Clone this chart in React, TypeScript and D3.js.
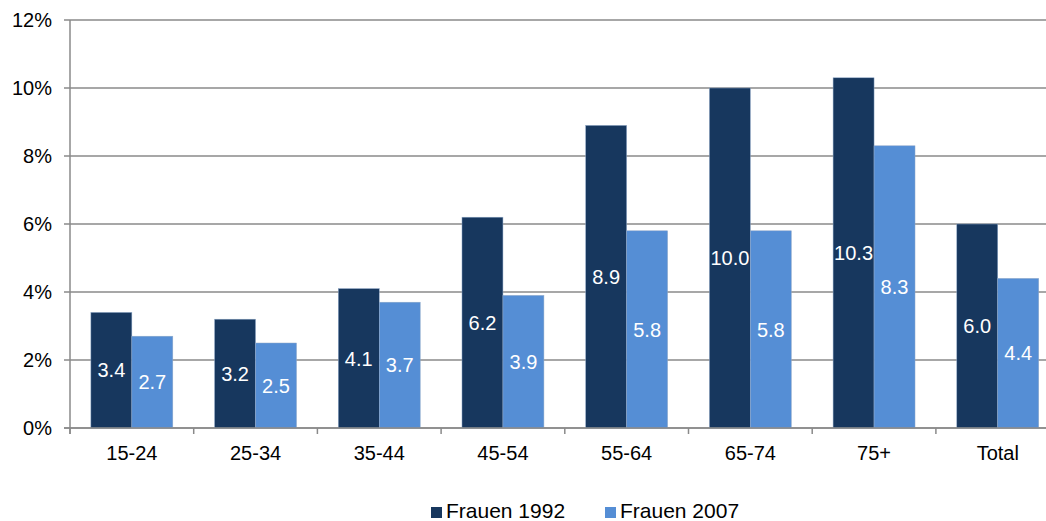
import React from 'react';
import * as d3 from 'd3';

const categories = ['15-24', '25-34', '35-44', '45-54', '55-64', '65-74', '75+', 'Total'];
const frauen1992 = [3.4, 3.2, 4.1, 6.2, 8.9, 10.0, 10.3, 6.0];
const frauen2007 = [2.7, 2.5, 3.7, 3.9, 5.8, 5.8, 8.3, 4.4];
const seriesNames = ['Frauen 1992', 'Frauen 2007'];
const seriesColors = ['#17375e', '#558ed5'];
const yTicks = [0, 2, 4, 6, 8, 10, 12];

const W = 1046;
const H = 521;
const margin = { left: 70, top: 20, bottom: 428 };
const plotRight = 70 + 8 * 123.7;
const font = '"Liberation Sans", Arial, sans-serif';

export default function App() {
  const x = d3.scaleBand<string>().domain(categories).range([margin.left, plotRight]).paddingInner(0).paddingOuter(0);
  const inner = d3.scaleBand<number>().domain([0, 1]).range([0, x.bandwidth()]).paddingInner(0).paddingOuter(0.51);
  const y = d3.scaleLinear().domain([0, 12]).range([margin.bottom, margin.top]);
  const series = [frauen1992, frauen2007];

  return (
    <svg width={W} height={H} style={{ position: 'absolute', left: 0, top: 0, fontFamily: font }}>
      <rect width={W} height={H} fill="#fff" />
      {yTicks.map(t => (
        <g key={t}>
          <line x1={margin.left - 6} x2={W} y1={y(t)} y2={y(t)} stroke="#8a8a8a" strokeWidth={1.5} />
          <text x={52} y={y(t)} dy="0.36em" textAnchor="end" fontSize={20} fill="#000">{t}%</text>
        </g>
      ))}
      {categories.map(c => (
        <line key={'tk' + c} x1={x(c)!} x2={x(c)!} y1={y(0)} y2={y(0) + 6} stroke="#8a8a8a" strokeWidth={1.5} />
      ))}
      {categories.map((c, i) =>
        series.map((s, j) => {
          const bx = x(c)! + inner(j)!;
          const by = y(s[i]);
          const bh = y(0) - by;
          return (
            <g key={c + j}>
              <rect x={bx} y={by} width={inner.bandwidth()} height={bh} fill={seriesColors[j]} stroke="#8fa8c8" strokeWidth={0.5} />
              <text x={bx + inner.bandwidth() / 2} y={by + bh / 2} dy="0.36em" textAnchor="middle" fontSize={20} fill="#fff">
                {s[i].toFixed(1)}
              </text>
            </g>
          );
        })
      )}
      <line x1={margin.left} x2={margin.left} y1={margin.top} y2={y(0) + 6} stroke="#8a8a8a" strokeWidth={1.5} />
      <line x1={margin.left - 6} x2={W} y1={y(0)} y2={y(0)} stroke="#8a8a8a" strokeWidth={1.5} />
      {categories.map(c => (
        <text key={'lb' + c} x={x(c)! + x.bandwidth() / 2} y={460} textAnchor="middle" fontSize={20} fill="#000">{c}</text>
      ))}
      {seriesNames.map((n, j) => (
        <g key={n} transform={`translate(${431 + j * 174},0)`}>
          <rect x={0} y={507} width={11} height={11} fill={seriesColors[j]} />
          <text x={15} y={518} fontSize={21} fill="#000">{n}</text>
        </g>
      ))}
    </svg>
  );
}
